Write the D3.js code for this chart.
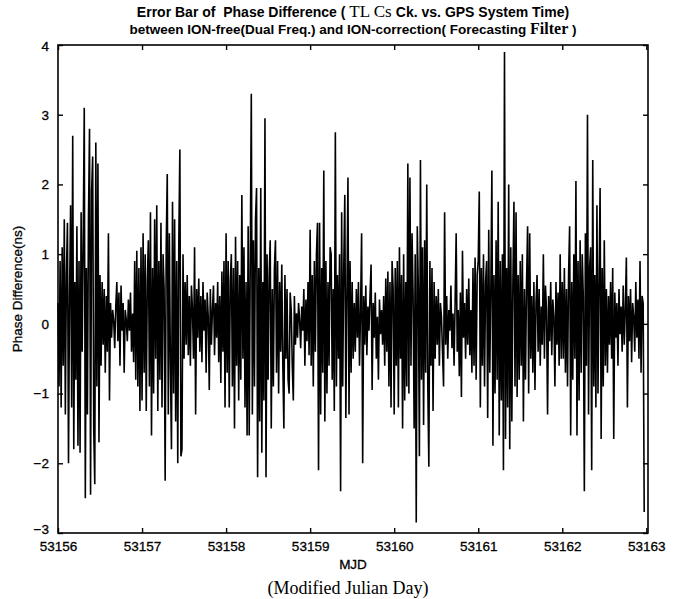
<!DOCTYPE html>
<html>
<head>
<meta charset="utf-8">
<script src="https://cdn.jsdelivr.net/npm/d3@7"></script>
<style>
  body { margin: 0; background: #fff; }
  svg text { fill: #000; white-space: pre; }
</style>
</head>
<body>
<div id="chart"></div>
<script>
// Phase difference (ns), one array per MJD day, sampled every 1/80 day
const startMJD = 53156;
const samplesPerDay = 80;

const day53156 = [0.3,-0.9,0.9,-1.2,1.1,-0.6,1.5,-1.3,0.7,1.45,-2.0,0.4,1.7,-1.2,2.7,-1.8,0.6,-0.8,1.4,-1.75,
  0.9,-1.85,1.6,-0.4,1.2,3.1,-2.5,0.8,-1.3,1.5,2.8,-2.45,1.9,2.4,-1.5,-2.3,2.6,-0.9,2.3,-1.7,
  0.7,-0.6,0.6,-0.3,0.5,-0.7,0.4,-0.4,1.3,-1.1,0.3,-0.2,0.2,0.05,-0.35,0.25,0.6,-0.25,0.45,-0.6,
  0.55,-0.1,0.3,-0.7,0.2,0.05,-0.25,0.35,-0.1,0.45,-0.4,0.15,-0.55,0.9,-0.8,1.05,-0.9,0.8,-1.25,1.1];
const day53157 = [-1.1,1.3,-0.7,1.0,-1.25,0.6,1.2,-0.9,1.6,-1.6,0.8,-1.0,1.5,-0.5,1.7,-1.25,0.9,-0.8,1.45,-1.2,
  1.0,0.5,-2.25,1.1,2.15,-1.3,1.3,-0.6,-1.8,1.75,-1.0,1.5,-1.4,0.9,-2.0,1.2,2.5,-1.9,-1.8,1.0,
  -0.5,0.6,-0.3,0.7,-0.45,0.4,-0.6,0.55,0.2,-0.5,1.1,-1.3,0.5,-0.2,0.65,-0.4,0.4,-0.55,0.6,-0.1,
  0.35,-0.7,0.45,0.1,-0.95,0.5,-0.3,0.2,0.55,-0.45,0.3,-0.2,0.6,-0.55,0.4,-0.85,0.75,-0.4,0.9,-1.2];
const day53158 = [1.3,-0.7,0.9,-1.2,0.6,1.0,-0.9,0.8,-1.5,1.25,-0.6,0.9,-1.1,0.7,-0.8,1.85,-0.5,1.1,-1.2,0.6,
  -1.6,1.4,-1.6,0.9,3.3,-1.3,1.2,-0.9,1.5,1.95,-2.2,0.8,-1.4,1.95,-1.85,0.6,-1.1,2.95,-2.2,1.0,
  -0.8,0.7,1.2,-1.5,0.5,-0.9,0.8,1.2,-0.7,0.9,-1.0,0.6,-0.4,0.85,-0.6,-1.5,0.7,-0.5,0.5,-0.8,
  -1.0,0.45,0.2,-0.6,-1.1,0.4,-0.3,0.15,-0.2,0.3,0.05,-0.35,0.25,-0.1,0.5,-0.6,0.35,-0.25,0.6,-0.45];
const day53159 = [1.35,-0.6,0.7,-0.9,0.9,-0.4,1.0,1.45,-2.1,1.45,-1.3,0.8,-0.7,2.2,-1.4,0.9,-1.0,0.6,-0.6,1.1,
  1.0,-0.8,0.5,-1.25,2.75,-0.9,0.7,-0.5,1.0,-2.4,1.6,-0.9,0.8,1.85,-1.35,0.4,2.1,-1.3,0.9,-0.7,
  0.6,-0.5,0.3,-0.4,0.5,-0.2,0.6,-0.6,0.2,1.3,-2.0,0.4,-0.3,0.55,-0.45,0.25,-0.1,0.4,0.85,-0.95,
  0.3,-0.2,0.45,-0.5,0.1,-0.8,0.35,-0.15,0.2,-0.3,0.4,-0.6,0.65,-0.4,0.75,-0.9,0.6,-1.2,0.9,0.5];
const day53160 = [-1.3,0.8,-0.6,0.9,-1.2,1.1,-0.5,0.7,-1.5,1.0,-1.1,0.6,-0.9,2.3,-1.0,2.1,-0.6,1.3,0.4,-1.5,
  1.0,-2.85,1.4,0.5,-1.9,2.35,-0.8,1.1,-1.45,1.2,-0.7,2.0,-0.9,-2.05,0.9,-0.6,0.8,-1.25,0.6,-0.5,
  0.4,-0.3,0.5,-0.6,0.3,0.1,-0.4,-0.9,1.6,-0.3,0.4,-0.5,0.2,-0.1,0.55,-0.35,0.15,-0.6,0.3,1.3,
  -0.4,0.2,-0.75,0.45,-1.05,1.05,-0.2,0.3,-0.5,0.5,-0.3,0.65,-0.45,0.2,-0.7,0.8,-0.6,0.95,-0.8,0.7];
const day53161 = [0.9,1.9,-1.2,0.8,-0.6,1.0,-0.9,0.6,0.9,-1.35,1.35,-0.7,0.5,2.2,-1.75,0.7,-1.0,1.2,-0.8,1.75,
  -1.6,0.9,-1.1,1.0,-2.1,3.9,-1.65,0.8,-1.2,2.0,-1.8,1.1,-1.4,0.6,1.75,-0.9,1.6,-1.05,0.7,-0.8,
  0.9,-0.6,1.0,-1.4,0.5,-0.8,0.6,1.4,-1.0,1.3,-0.5,0.4,-0.7,0.6,-0.95,0.3,0.7,-0.4,0.5,-0.6,
  0.25,-0.3,1.0,-0.5,0.55,0.2,-1.3,0.4,-0.25,0.6,-0.45,0.35,0.1,-0.9,0.6,-0.3,0.45,-0.6,1.0,-0.5];
const day53162 = [0.6,-0.5,0.8,-0.7,0.5,-0.9,0.7,1.4,-1.6,0.6,-0.8,1.0,-0.5,2.05,-1.6,0.9,-1.1,1.2,-0.7,1.0,
  0.4,-2.4,1.3,-0.6,3.0,-1.3,0.8,1.1,-2.1,2.35,-0.9,0.7,-1.2,1.7,-1.0,0.6,1.95,-1.65,0.8,-0.9,
  1.2,-0.6,0.5,-0.7,0.4,-0.3,0.6,-0.5,0.8,-1.65,0.45,-0.2,0.3,-0.6,0.5,-0.15,0.25,-0.4,0.55,-0.3,
  0.2,0.95,-1.2,0.4,-0.25,0.5,-0.55,0.3,0.1,-0.4,0.6,-0.2,0.35,-0.5,0.9,-0.7,0.4,0.3,-2.7];

const days = [day53156, day53157, day53158, day53159, day53160, day53161, day53162];
const xTicks = [53156, 53157, 53158, 53159, 53160, 53161, 53162, 53163];
const yTicks = [-3, -2, -1, 0, 1, 2, 3, 4];

const series = [];
days.forEach((vals, d) => {
    vals.forEach((v, j) => series.push({ mjd: startMJD + d + j / samplesPerDay, v: v }));
});

const width = 680, height = 599;
const margin = { top: 45, right: 32, bottom: 66, left: 58 };
const innerW = width - margin.left - margin.right;
const innerH = height - margin.top - margin.bottom;

const svg = d3.select('#chart').append('svg')
    .attr('width', width)
    .attr('height', height)
    .style('font-family', 'Arial, "Liberation Sans", sans-serif');

const x = d3.scaleLinear().domain([53156, 53163.02]).range([0, innerW]);
const y = d3.scaleLinear().domain([-3, 4]).range([innerH, 0]);

const g = svg.append('g').attr('transform', `translate(${margin.left},${margin.top})`);

// Data line
const line = d3.line().x(d => x(d.mjd)).y(d => y(d.v));
g.append('path')
    .datum(series)
    .attr('d', line)
    .attr('fill', 'none')
    .attr('stroke', '#000')
    .attr('stroke-width', 1.6)
    .attr('stroke-linejoin', 'miter');

// Axes with inward ticks on all four sides (Matlab box style)
const tickLen = 5;
const bottomAxis = g.append('g').attr('transform', `translate(0,${innerH})`)
    .call(d3.axisBottom(x).tickValues(xTicks).tickFormat(d3.format('d')).tickSizeInner(-tickLen).tickSizeOuter(0).tickPadding(8));
const topAxis = g.append('g')
    .call(d3.axisTop(x).tickValues(xTicks).tickFormat('').tickSizeInner(-tickLen).tickSizeOuter(0));
const leftAxis = g.append('g')
    .call(d3.axisLeft(y).tickValues(yTicks).tickFormat(d3.format('d')).tickSizeInner(-tickLen).tickSizeOuter(0).tickPadding(9));
const rightAxis = g.append('g').attr('transform', `translate(${innerW},0)`)
    .call(d3.axisRight(y).tickValues(yTicks).tickFormat('').tickSizeInner(-tickLen).tickSizeOuter(0));

[bottomAxis, topAxis, leftAxis, rightAxis].forEach(a => {
    a.select('.domain').remove();
    a.selectAll('line').attr('stroke', '#000').attr('stroke-width', 1.4);
    a.selectAll('text').style('font-size', '13.5px').style('font-family', 'Arial, "Liberation Sans", sans-serif')
        .style('stroke', '#000').style('stroke-width', 0.3).attr('fill', '#000');
});
leftAxis.selectAll('text').filter(d => d === -3).attr('dy', '0.05em');
leftAxis.selectAll('text').filter(d => d === 4).attr('dy', '0.4em');

// Frame
g.append('rect')
    .attr('x', 0).attr('y', 0)
    .attr('width', innerW).attr('height', innerH)
    .attr('fill', 'none')
    .attr('stroke', '#000')
    .attr('stroke-width', 1.6);

// Title (two lines, mixed fonts)
const cx = margin.left + innerW / 2;
const serif = '"Liberation Serif", "Times New Roman", serif';
const t1 = svg.append('text')
    .attr('x', cx).attr('y', 17)
    .attr('text-anchor', 'middle')
    .style('font-size', '14px').style('font-weight', 'bold');
t1.append('tspan').text('Error Bar of  Phase Difference ( ');
t1.append('tspan').style('font-family', serif).style('font-weight', 'normal').style('font-size', '17px').text('TL Cs ');
t1.append('tspan').text('Ck. vs. GPS System Time)');

const t2 = svg.append('text')
    .attr('x', cx).attr('y', 34)
    .attr('text-anchor', 'middle')
    .style('font-size', '13.5px').style('font-weight', 'bold');
t2.append('tspan').text('between ION-free(Dual Freq.) and ION-correction( Forecasting ');
t2.append('tspan').style('font-family', serif).style('font-size', '16px').text('Filter');
t2.append('tspan').text(' )');

// Axis labels
svg.append('text')
    .attr('transform', `translate(22,${margin.top + innerH / 2}) rotate(-90)`)
    .attr('text-anchor', 'middle')
    .style('font-size', '13.5px')
    .style('stroke', '#000').style('stroke-width', 0.3)
    .text('Phase Difference(ns)');

svg.append('text')
    .attr('x', cx).attr('y', 569)
    .attr('text-anchor', 'middle')
    .style('font-size', '13.5px')
    .style('stroke', '#000').style('stroke-width', 0.3)
    .text('MJD');

svg.append('text')
    .attr('x', cx - 5).attr('y', 594)
    .attr('text-anchor', 'middle')
    .style('font-family', serif)
    .style('font-size', '18px')
    .text('(Modified Julian Day)');
</script>
</body>
</html>
